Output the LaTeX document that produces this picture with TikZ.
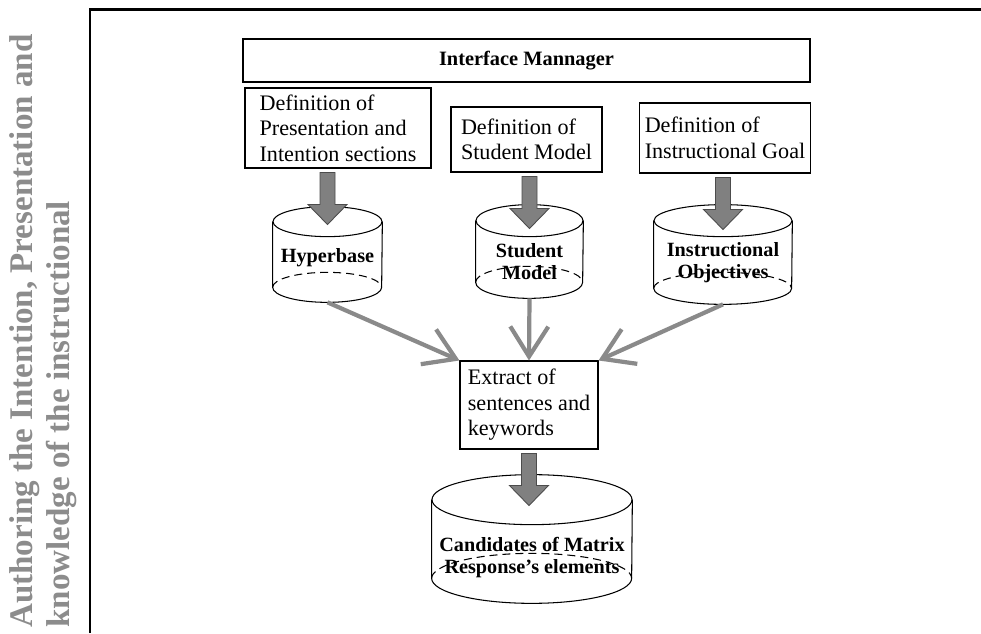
\documentclass[tikz,border=0pt]{standalone}
\usepackage{fontspec}
\setmainfont{Liberation Serif}
\usepackage{tikz}
\usetikzlibrary{arrows.meta,calc}

\definecolor{sidegray}{RGB}{140,140,140}
\definecolor{feedgray}{RGB}{138,138,138}
\definecolor{blockgray}{RGB}{128,128,128}

\tikzset{
    defbox/.style={
        rectangle,
        draw=black,
        line width=0.6pt,
        inner sep=3pt,
        align=left,
        font=\fontsize{12.6}{14.5}\selectfont
    },
    titlebox/.style={
        rectangle,
        draw=black,
        line width=0.6pt,
        font=\fontsize{11.6}{12.5}\selectfont\bfseries
    },
    dbarea/.style={
        rectangle,
        inner sep=0pt
    },
    dbline/.style={
        draw=black,
        line width=0.6pt
    },
    dblabel/.style={
        align=center,
        inner sep=1pt,
        font=\fontsize{11.5}{12.5}\selectfont\bfseries
    },
    sidetext/.style={
        align=left,
        inner sep=0pt,
        text=sidegray,
        font=\fontsize{18.8}{21}\selectfont\bfseries
    },
    blockarrow/.style={
        draw=black!70,
        fill=blockgray,
        line width=0.5pt
    },
    feedarrow/.style={
        draw=feedgray,
        line width=2.4pt,
        -{Straight Barb[length=0.6cm, width=0.76cm]}
    },
    pics/blockdown/.style={
        code={
            \draw[blockarrow] (-0.15,0) -- (-0.15,-0.64) -- (-0.39,-0.64) -- (0,-1.04)
                              -- (0.39,-0.64) -- (0.15,-0.64) -- (0.15,0) -- cycle;
        }
    }
}

\begin{document}
\begin{tikzpicture}
    \useasboundingbox (0,0) rectangle (19.62,12.66);

    % Side title and frame
    \node[sidetext, rotate=90, anchor=west] (sidetitle) at (0.87,0.1)
        {Authoring the Intention, Presentation and\\knowledge of the instructional};
    \draw[line width=1.7pt] (1.8,0) -- (1.8,12.47) -- (19.62,12.47);

    % Interface and definition boxes
    \node[titlebox, minimum width=11.34cm, minimum height=0.86cm] (manager) at (10.53,11.45) {Interface Mannager};
    \node[defbox, minimum width=3.72cm, minimum height=1.6cm] (defPres)    at (6.76,10.10) {Definition of\\Presentation and\\Intention sections};
    \node[defbox, minimum width=3.02cm, minimum height=1.3cm] (defStudent) at (10.53,9.87) {Definition of\\Student Model};
    \node[defbox, minimum width=3.4cm,  minimum height=1.4cm] (defGoal)    at (14.5,9.9)   {Definition of\\Instructional Goal};

    % Stores
    \node[dbarea, minimum width=2.18cm, minimum height=1.9cm]  (hyper)   at (6.55,7.57)  {};
    \node[dbarea, minimum width=2.14cm, minimum height=1.86cm] (student) at (10.59,7.63) {};
    \node[dbarea, minimum width=2.76cm, minimum height=1.98cm] (goal)    at (14.46,7.57) {};
    \node[dbarea, minimum width=4.0cm,  minimum height=2.56cm] (cand)    at (10.64,1.88) {};

    \foreach \db/\rx/\ry in {hyper/1.09/0.3, student/1.07/0.32, goal/1.38/0.32, cand/2.0/0.5}{
        \draw[dbline] ($(\db.north)+(0,-\ry)$) ellipse [x radius=\rx, y radius=\ry];
        \draw[dbline] ($(\db.north west)+(0,-\ry)$) -- ($(\db.south west)+(0,\ry)$)
                      arc[start angle=180, end angle=360, x radius=\rx, y radius=\ry]
                      -- ($(\db.north east)+(0,-\ry)$);
        \draw[dbline, dash pattern=on 0.16cm off 0.1cm] ($(\db.south west)+(0,\ry)$)
                      arc[start angle=180, end angle=0, x radius=\rx, y radius=\ry];
    }

    \node[dblabel] (hyperlabel)   at ($(hyper.center)+(0,-0.07)$)  {Hyperbase};
    \node[dblabel] (studentlabel) at ($(student.center)+(0,-0.2)$) {Student\\Model};
    \node[dblabel] (goallabel)    at ($(goal.center)+(0,-0.16)$)   {Instructional\\Objectives};
    \node[dblabel] (candlabel)    at ($(cand.center)+(0,-0.37)$)   {Candidates of Matrix\\Response's elements};

    % Extraction step
    \node[defbox, minimum width=2.76cm, minimum height=1.76cm] (extract) at (10.58,4.56) {Extract of\\sentences and\\keywords};

    % --- Block arrows into the stores ---
    \pic at ($(defPres.south -| hyper.north)+(0,-0.08)$)       {blockdown};
    \pic at ($(defStudent.south -| student.north)+(0,-0.08)$)  {blockdown};
    \pic at ($(defGoal.south -| goal.north)+(0,-0.08)$)        {blockdown};
    \pic at ($(extract.south)+(0,-0.08)$)                      {blockdown};

    % --- Stores feed the extraction ---
    \draw[feedarrow] (hyper.south)   -- (extract.north west);
    \draw[feedarrow] (student.south) -- (extract.north);
    \draw[feedarrow] (goal.south)    -- (extract.north east);

\end{tikzpicture}
\end{document}
